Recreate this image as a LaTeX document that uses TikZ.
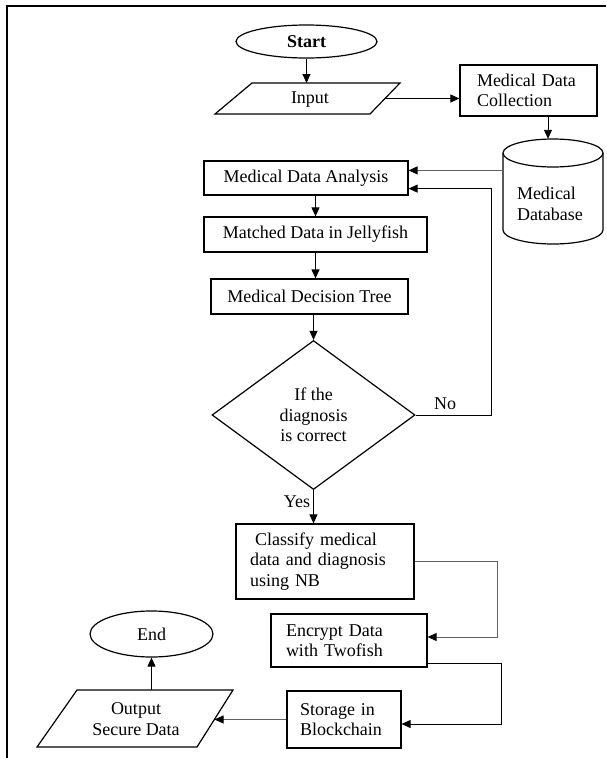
\documentclass[tikz,border=0pt]{standalone}
\usepackage{fontspec}
\setmainfont{Liberation Serif}
\usetikzlibrary{arrows.meta,shapes.geometric,calc}
\begin{document}
\begin{tikzpicture}[x=1pt,y=-1pt,
  font=\fontsize{18}{20.5}\selectfont,
  box/.style={draw, line width=1.2pt, inner sep=0pt, align=center},
  shp/.style={line width=1.2pt},
  arr/.style={line width=0.9pt, -{Triangle[length=9pt,width=8pt]}},
  grayarr/.style={line width=0.9pt, draw=black!62, -{Triangle[length=9pt,width=8pt,black]}}]
\useasboundingbox (0,0) rectangle (606,758);
% frame
\draw[line width=1.5pt] (7,758) -- (7,6) -- (606,6);

% Start
\node[box, ellipse, minimum width=141pt, minimum height=33pt] (start) at (306.5,41.5) {\textbf{Start}};

% Input parallelogram
\draw[shp] (252,83) -- (400,83) -- (370,114) -- (215,114) -- cycle;
\node (inp) at (310,100) {Input};
\coordinate (inTop) at (306.5,83);
\coordinate (inR) at (385,98.5);

% Medical Data Collection
\node[box, minimum width=137pt, minimum height=51pt, text width=103pt, align=left] (coll) at (528.5,90.5) {Medical Data\\Collection};

% Database cylinder
\node[minimum width=100pt, minimum height=105pt, inner sep=0pt] (db) at (553,191.5) {};
\draw[shp] (553,153) ellipse [x radius=50pt, y radius=14pt];
\draw[shp] (503,153) -- (503,230) arc[start angle=180, end angle=360, x radius=50pt, y radius=14pt] -- (603,153);
\node[text width=72pt, align=left] (dbt) at (553,204) {Medical\\Database};

% process boxes
\node[box, minimum width=204pt, minimum height=34pt] (ana) at (306,178) {Medical Data Analysis};
\node[box, minimum width=223pt, minimum height=35pt] (mat) at (315.5,234.5) {Matched Data in Jellyfish};
\node[box, minimum width=197pt, minimum height=35pt] (tree) at (309.5,296.5) {Medical Decision Tree};
\node[box, diamond, aspect=1.36, minimum width=203pt, minimum height=149pt] (dia) at (313.5,415) {If the\\diagnosis\\is correct};
\node[box, minimum width=178pt, minimum height=75pt, text width=150pt, align=left] (cls) at (325,561.5) {\hspace*{5pt}Classify medical\\data and diagnosis\\using NB};
\node[box, minimum width=156pt, minimum height=53pt, text width=126pt, align=left] (enc) at (349,640.5) {Encrypt Data\\with Twofish};
\node[box, minimum width=114pt, minimum height=57pt, text width=88pt, align=left] (sto) at (344,719.5) {Storage in\\Blockchain};

% Output parallelogram
\draw[shp] (77,690) -- (233,690) -- (197,747) -- (37,747) -- cycle;
\node[align=center] (outp) at (136,719) {Output\\Secure Data};
\coordinate (outR) at (214.5,719.5);
\coordinate (outT) at (151.5,690);

% End
\node[box, ellipse, minimum width=123pt, minimum height=46pt] (endn) at (151.5,634) {End};

% labels
\node (no) at (445,404) {No};
\node (yes) at (297,502) {Yes};

% helper coordinates
\coordinate (anaIn1) at ([yshift=-10pt]ana.north east);
\coordinate (anaIn2) at ([yshift=7pt]ana.south east);
\coordinate (encIn) at ([yshift=3.5pt]enc.east);
\coordinate (encOut) at ([yshift=4pt]enc.south east);
\coordinate (stoIn) at ([yshift=-4.5pt]sto.east);

% connectors
\draw[arr] (start.south) -- (inTop);
\draw[arr] (inR) -- (inR -| coll.west);
\draw[arr] ([xshift=-5pt]db.north |- coll.south) -- ([xshift=-5pt]db.north);
\draw[grayarr] (db.west |- anaIn1) -- (anaIn1);
\draw[arr] (ana.south -| mat.north) -- (mat.north);
\draw[arr] (mat.south) -- (mat.south |- tree.north);
\draw[arr] (tree.south -| dia.north) -- (dia.north);
\draw[arr] (dia.east) -- ++(76pt,0) |- (anaIn2);
\draw[arr] (dia.south) -- (dia.south |- cls.north);
\draw[grayarr] (cls.east) -- ++(83pt,0) |- (encIn);
\draw[arr] (encOut) -- ++(74pt,0) |- (stoIn);
\draw[grayarr] (sto.west) -- (outR);
\draw[arr] (outT) -- (endn.south);
\end{tikzpicture}
\end{document}
